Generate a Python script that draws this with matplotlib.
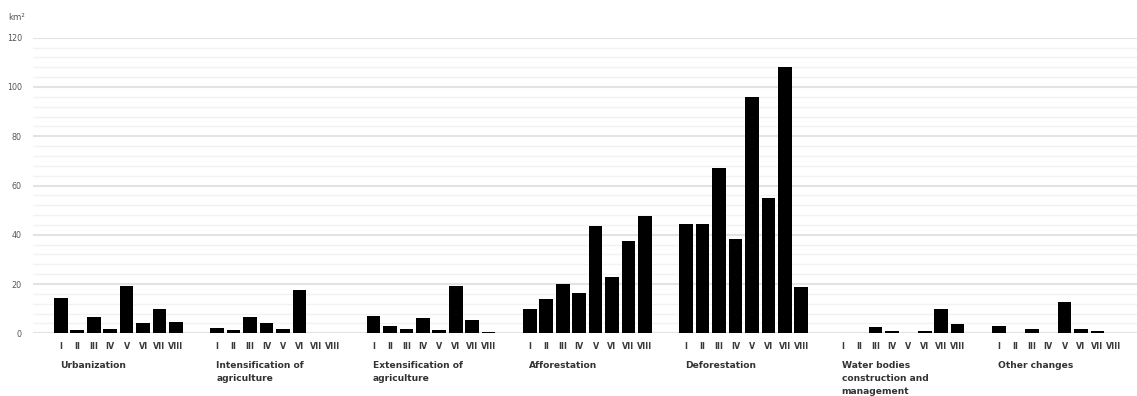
import matplotlib
matplotlib.use("Agg")
import matplotlib.pyplot as plt
import numpy as np

groups = ["Urbanization", "Intensification of\nagriculture", "Extensification of\nagriculture",
          "Afforestation", "Deforestation", "Water bodies\nconstruction and\nmanagement", "Other changes"]
periods = ["I", "II", "III", "IV", "V", "VI", "VII", "VIII"]

urbanization = [14.5, 1.3, 6.5, 1.7, 19.2, 4.3, 10.0, 4.7]
intensification = [2.0, 1.4, 6.8, 4.3, 1.7, 17.6, 0.0, 0.3]
extensification = [7.0, 3.1, 1.7, 6.1, 1.3, 19.0, 5.4, 0.4]
afforestation = [9.9, 13.9, 19.9, 16.3, 43.6, 22.9, 37.6, 47.7]
deforestation = [44.4, 44.4, 67.3, 38.3, 95.9, 55.0, 108.1, 18.9]
water_bodies = [0.0, 0.2, 2.7, 0.9, 0.0, 0.9, 9.8, 3.7]
other_changes = [3.0, 0.0, 1.7, 0.3, 12.6, 1.7, 1.0, 0.0]

series = [urbanization, intensification, extensification, afforestation,
          deforestation, water_bodies, other_changes]

fig = plt.figure(figsize=(11.37, 3.96), dpi=100)
ax = fig.add_axes([33/1137, 62.7/396, 1 - 33/1137, (333.3 - 37.7)/396])

group_step = 9.5
ax.set_ylim(0, 120)
ax.set_xlim(-1.69, 65.4)

# grid
for v in np.arange(0, 121, 4):
    if v % 20 == 0:
        ax.axhline(v, color="#e3e3e3", lw=1.5, zorder=0)
    else:
        ax.axhline(v, color="#f2f2f2", lw=1.0, zorder=0)

xticks, xlabels = [], []
for g, (name, vals) in enumerate(zip(groups, series)):
    x = g * group_step + np.arange(len(periods))
    ax.bar(x, vals, width=0.83, color="black", zorder=3)
    xticks.extend(x)
    xlabels.extend(periods)
    ax.text(x[0] - 0.05, -11.2, name, ha="left", va="top", fontsize=6.6,
            fontweight="bold", color="#333333", linespacing=1.55)

ax.set_xticks(xticks)
ax.set_xticklabels(xlabels, fontsize=5.8, fontweight="bold", color="#3a3a3a")
ax.tick_params(axis="x", length=0, pad=6.5)
ax.set_yticks(np.arange(0, 121, 20))
ax.set_yticklabels([str(v) for v in range(0, 121, 20)], fontsize=5.8, color="#555555")
ax.tick_params(axis="y", length=0, pad=8)
for s in ax.spines.values():
    s.set_visible(False)

fig.text(8/1137, 1 - 17/396, "km²", fontsize=6.2, color="#555555", va="center", ha="left")

fig.savefig("out.png", dpi=100, facecolor="white")
